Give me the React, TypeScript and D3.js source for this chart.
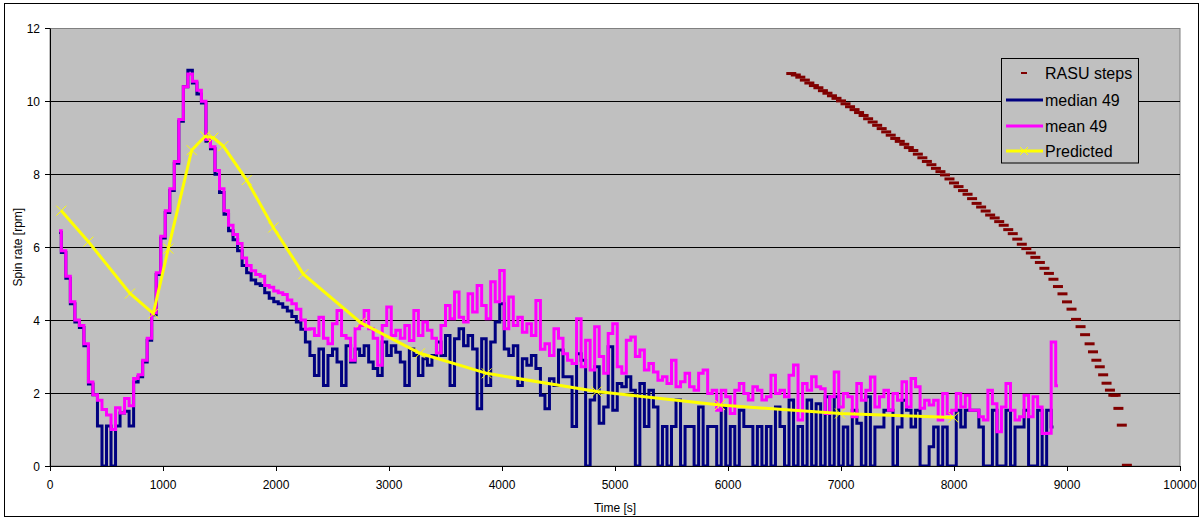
import React from "react";
import * as d3 from "d3";

// ---- data ----
const T0 = 80; // first sample time of mean/median series [s]
const DT = 40; // sample spacing [s]

const meanValues = [
  6.45, 5.9, 5.2, 4.5, 4.0, 3.85, 3.35, 2.3, 1.95, 1.8, // 80
  1.55, 1.4, 1.0, 1.6, 1.45, 1.85, 1.65, 2.4, 2.5, 2.9, // 480
  3.5, 4.2, 5.3, 6.3, 7.0, 7.6, 8.35, 9.5, 10.4, 10.75, // 880
  10.55, 10.3, 10.0, 8.95, 8.75, 8.1, 7.6, 7.0, 6.6, 6.35, // 1280
  6.1, 5.7, 5.5, 5.35, 5.25, 5.2, 4.95, 4.9, 4.8, 4.75, // 1680
  4.7, 4.55, 4.45, 4.3, 4.0, 3.75, 3.76, 3.58, 4.08, 3.5, // 2080
  3.35, 3.9, 4.26, 3.58, 3.5, 2.9, 3.76, 3.85, 4.26, 3.76, // 2480
  3.5, 2.76, 3.85, 4.36, 3.58, 3.72, 3.5, 3.85, 3.44, 4.26, // 2880
  3.58, 3.95, 3.72, 3.5, 3.1, 3.85, 4.4, 4.04, 4.77, 4.08, // 3280
  3.95, 4.72, 4.22, 4.95, 4.4, 4.04, 5.05, 4.5, 5.36, 3.76, // 3680
  4.63, 3.85, 4.08, 3.67, 3.9, 3.58, 4.54, 3.2, 3.35, 3.03, // 4080
  3.76, 3.5, 3.08, 2.9, 2.81, 4.04, 2.72, 3.45, 2.63, 3.82, // 4480
  3.0, 2.54, 3.63, 3.9, 2.72, 2.54, 3.45, 3.54, 3.0, 3.18, // 4880
  2.63, 2.81, 2.58, 2.35, 2.45, 2.26, 2.9, 2.17, 2.31, 2.54, // 5280
  2.17, 2.08, 2.54, 2.63, 1.99, 2.08, 1.53, 2.08, 1.9, 1.44, // 5680
  2.08, 2.26, 1.99, 1.81, 2.17, 2.08, 1.81, 1.9, 2.49, 1.99, // 6080
  2.08, 1.9, 2.49, 2.77, 1.26, 2.26, 2.08, 2.45, 2.17, 2.12, // 6480
  1.44, 1.9, 2.58, 1.62, 1.99, 1.9, 1.35, 2.26, 1.8, 2.08, // 6880
  2.44, 1.62, 1.9, 2.08, 1.53, 1.99, 1.8, 2.31, 1.62, 2.4, // 7280
  2.17, 1.58, 1.8, 1.67, 1.8, 1.26, 1.99, 1.44, 1.53, 1.99, // 7680
  1.62, 1.94, 1.53, 1.53, 1.35, 1.26, 2.08, 1.71, 0.94, 1.62, // 8080
  2.26, 1.53, 1.26, 1.35, 1.94, 1.35, 1.9, 1.62, 0.89, 0.9, // 8480
  3.4, 2.2, // 8880
];

const medianValues = [
  6.4, 5.85, 5.15, 4.45, 3.95, 3.8, 3.3, 2.25, 1.95, 1.1, // 80
  0, 1.1, 0, 1.1, 1.45, 1.5, 1.1, 2.3, 2.45, 2.85, // 480
  3.45, 4.15, 5.25, 6.25, 6.95, 7.55, 8.3, 9.45, 10.4, 10.85, // 880
  10.5, 10.2, 9.95, 8.9, 8.7, 8.0, 7.5, 6.9, 6.45, 6.2, // 1280
  5.9, 5.5, 5.3, 5.1, 5.0, 4.95, 4.75, 4.6, 4.5, 4.45, // 1680
  4.35, 4.25, 4.1, 3.95, 3.75, 3.4, 3.03, 2.48, 3.21, 2.21, // 2080
  3.03, 3.21, 2.85, 2.21, 3.3, 2.85, 3.21, 3.03, 3.3, 2.85, // 2480
  2.67, 2.48, 3.4, 3.03, 3.3, 3.12, 2.85, 2.21, 3.21, 3.03, // 2880
  2.48, 2.94, 2.76, 3.03, 3.4, 3.03, 3.58, 2.21, 3.49, 3.76, // 3280
  3.3, 3.58, 3.21, 1.57, 3.49, 2.21, 3.4, 3.95, 4.45, 3.21, // 3680
  3.03, 3.3, 2.21, 2.94, 2.76, 3.03, 2.67, 1.94, 1.57, 2.39, // 4080
  2.21, 3.18, 2.45, 2.45, 1.08, 3.08, 2.9, 0, 1.81, 2.72, // 4480
  1.17, 1.62, 3.27, 1.53, 2.26, 2.17, 2.45, 2.08, 0, 2.26, // 4880
  1.08, 2.08, 1.62, 0, 1.08, 0, 1.08, 1.81, 0, 1.08, // 5280
  1.08, 0, 1.62, 0, 1.08, 1.08, 0, 1.62, 0, 1.08, // 5680
  0, 1.53, 1.08, 1.08, 0, 1.08, 0, 1.08, 0, 1.62, // 6080
  1.08, 0, 1.81, 0, 1.08, 0, 1.81, 0, 1.71, 0, // 6480
  1.9, 0, 1.9, 0, 1.07, 0, 1.53, 1.17, 0, 1.9, // 6880
  0, 1.07, 1.07, 1.53, 1.53, 0, 1.07, 1.8, 1.53, 1.07, // 7280
  1.53, 0, 0, 0.53, 1.07, 0, 1.07, 0, 0, 1.53, // 7680
  1.07, 1.53, 1.53, 1.53, 1.07, 0, 0, 1.53, 0, 0, // 8080
  1.53, 0, 1.07, 1.07, 1.53, 0, 0, 1.53, 0, 1.53, // 8480
  1.07, // 8880
];

const predictedTimes = [100, 340, 708, 914, 1047, 1254, 1372, 1445, 1534, 1741, 1976, 2242, 2750, 3274, 3865, 4838, 5929, 6991, 7994];
const predictedValues = [7.0, 6.15, 4.73, 4.18, 5.96, 8.66, 9.04, 9.0, 8.77, 7.84, 6.54, 5.26, 3.93, 3.09, 2.54, 2.04, 1.67, 1.44, 1.33];

const rasuTimes = [
  6560, 6600, 6640, 6680, 6720, 6760, 6800, 6840, 6880, 6920, 6960, 7000, 7040, 7080, 7120, 7160, 7200,
  7240, 7280, 7320, 7360, 7400, 7440, 7480, 7520, 7560, 7600, 7640, 7680, 7720, 7760, 7800, 7840, 7880,
  7920, 7960, 8000, 8040, 8080, 8120, 8160, 8200, 8240, 8280, 8320, 8360, 8400, 8440, 8480, 8520, 8560,
  8600, 8640, 8680, 8720, 8760, 8800, 8840, 8880, 8920, 8960, 9000, 9040, 9080, 9120, 9160, 9200, 9230,
  9260, 9290, 9320, 9350, 9380, 9410, 9430, 9455, 9485, 9530,
];
const rasuValues = [
  10.76, 10.72, 10.66, 10.58, 10.5, 10.43, 10.37, 10.29, 10.22, 10.15, 10.08, 10.01, 9.93, 9.85, 9.77, 9.69, 9.61,
  9.52, 9.43, 9.34, 9.25, 9.16, 9.07, 8.98, 8.9, 8.82, 8.73, 8.65, 8.55, 8.45, 8.35, 8.26, 8.16, 8.07,
  7.98, 7.87, 7.76, 7.66, 7.55, 7.45, 7.33, 7.2, 7.1, 6.99, 6.88, 6.8, 6.7, 6.6, 6.48, 6.37, 6.22,
  6.08, 5.96, 5.84, 5.72, 5.58, 5.42, 5.28, 5.12, 4.92, 4.72, 4.5, 4.3, 4.02, 3.82, 3.6, 3.35, 3.13,
  2.9, 2.72, 2.5, 2.27, 2.08, 1.94, 1.94, 1.58, 1.12, 0.02,
];

const xTicks = [0, 1000, 2000, 3000, 4000, 5000, 6000, 7000, 8000, 9000, 10000];
const yTicks = [0, 2, 4, 6, 8, 10, 12];
const legendLabels = ["RASU steps", "median 49", "mean 49", "Predicted"];

// ---- chart ----
const W = 1203;
const H = 519;
const PL = 50, PR = 1180, PT = 28.3, PB = 466;
const FONT = "Arial, 'Liberation Sans', sans-serif";
const C_MED = "#000080", C_MEAN = "#FF00FF", C_PRED = "#FFFF00", C_RASU = "#800000";

export default function App() {
  const x = d3.scaleLinear().domain([0, 10000]).range([PL, PR]);
  const y = d3.scaleLinear().domain([0, 12]).range([PB, PT]);

  const meanPts: [number, number][] = meanValues.map((v, i) => [T0 + i * DT, v]);
  const medPts: [number, number][] = medianValues.map((v, i) => [T0 + i * DT, v]);
  const predPts: [number, number][] = predictedTimes.map((t, i) => [t, predictedValues[i]]);

  const stepLine = d3.line<[number, number]>().x((d) => x(d[0])).y((d) => y(d[1])).curve(d3.curveStep);
  const linLine = d3.line<[number, number]>().x((d) => x(d[0])).y((d) => y(d[1]));

  const crisp = (v: number) => Math.round(v) + 0.5;
  const legendRows = [73, 100, 126, 151];

  return (
    <div style={{ position: "absolute", left: 0, top: 0 }}>
      <svg width={W} height={H} style={{ display: "block" }}>
        <rect x={0} y={0} width={W} height={H} fill="#ffffff" />
        <rect x={4.5} y={3.5} width={1194} height={513} fill="#ffffff" stroke="#000" strokeWidth={1} />
        <defs>
          <clipPath id="plotclip">
            <rect x={PL} y={PT - 2} width={PR - PL} height={PB - PT + 2} />
          </clipPath>
        </defs>
        {/* plot area */}
        <rect x={PL} y={crisp(PT)} width={PR - PL} height={PB - crisp(PT)} fill="#C0C0C0" stroke="#808080" strokeWidth={1} />
        {yTicks.filter((v) => v > 0 && v < 12).map((v) => (
          <line key={"g" + v} x1={PL} x2={PR} y1={crisp(y(v))} y2={crisp(y(v))} stroke="#000" strokeWidth={1} />
        ))}
        {/* axes */}
        <line x1={PL + 0.5} x2={PL + 0.5} y1={crisp(PT)} y2={PB + 0.5} stroke="#000" />
        <line x1={PL} x2={PR} y1={PB + 0.5} y2={PB + 0.5} stroke="#000" />
        {yTicks.map((v) => (
          <g key={"yt" + v}>
            <line x1={PL - 5} x2={PL} y1={crisp(y(v))} y2={crisp(y(v))} stroke="#000" />
            <text x={40} y={y(v) + 4.5} textAnchor="end" fontFamily={FONT} fontSize={12} fill="#000">{v}</text>
          </g>
        ))}
        {xTicks.map((t) => (
          <g key={"xt" + t}>
            <line x1={crisp(x(t))} x2={crisp(x(t))} y1={PB} y2={PB + 5} stroke="#000" />
            <text x={x(t)} y={489} textAnchor="middle" fontFamily={FONT} fontSize={12} fill="#000">{t}</text>
          </g>
        ))}
        <text x={615} y={512} textAnchor="middle" fontFamily={FONT} fontSize={12} fill="#000">Time [s]</text>
        <text transform={`translate(22,${(PT + PB) / 2}) rotate(-90)`} textAnchor="middle" fontFamily={FONT} fontSize={12} fill="#000">Spin rate [rpm]</text>

        <g clipPath="url(#plotclip)">
          {/* RASU steps: dash markers */}
          {rasuTimes.map((t, i) => (
            <rect key={"r" + i} x={x(t) - 5} y={y(rasuValues[i]) - 1.5} width={10} height={3} fill={C_RASU} />
          ))}
          <path d={stepLine(medPts) || ""} fill="none" stroke={C_MED} strokeWidth={3} />
          <path d={stepLine(meanPts) || ""} fill="none" stroke={C_MEAN} strokeWidth={3} />
          <path d={linLine(predPts) || ""} fill="none" stroke={C_PRED} strokeWidth={3} />
          {predPts.map((d, i) => {
            const cx = x(d[0]), cy = y(d[1]);
            return (
              <path key={"pm" + i} d={`M${cx - 5},${cy - 5}L${cx + 5},${cy + 5}M${cx - 5},${cy + 5}L${cx + 5},${cy - 5}`} stroke={C_PRED} strokeWidth={1} fill="none" />
            );
          })}
        </g>

        {/* legend */}
        <rect x={1001.5} y={58.5} width={137} height={104.5} fill="#C0C0C0" stroke="#000" strokeWidth={1} />
        <rect x={1021} y={legendRows[0] - 1} width={6} height={2} fill={C_RASU} />
        <line x1={1006} x2={1043} y1={legendRows[1]} y2={legendRows[1]} stroke={C_MED} strokeWidth={3} />
        <line x1={1006} x2={1043} y1={legendRows[2]} y2={legendRows[2]} stroke={C_MEAN} strokeWidth={3} />
        <line x1={1006} x2={1043} y1={legendRows[3]} y2={legendRows[3]} stroke={C_PRED} strokeWidth={3} />
        <path d={`M1020,${legendRows[3] - 4}L1028,${legendRows[3] + 4}M1020,${legendRows[3] + 4}L1028,${legendRows[3] - 4}`} stroke={C_PRED} strokeWidth={1} />
        {legendLabels.map((s, i) => (
          <text key={"lg" + i} x={1045} y={legendRows[i] + 6} fontFamily={FONT} fontSize={16} fill="#000">{s}</text>
        ))}
      </svg>
    </div>
  );
}
